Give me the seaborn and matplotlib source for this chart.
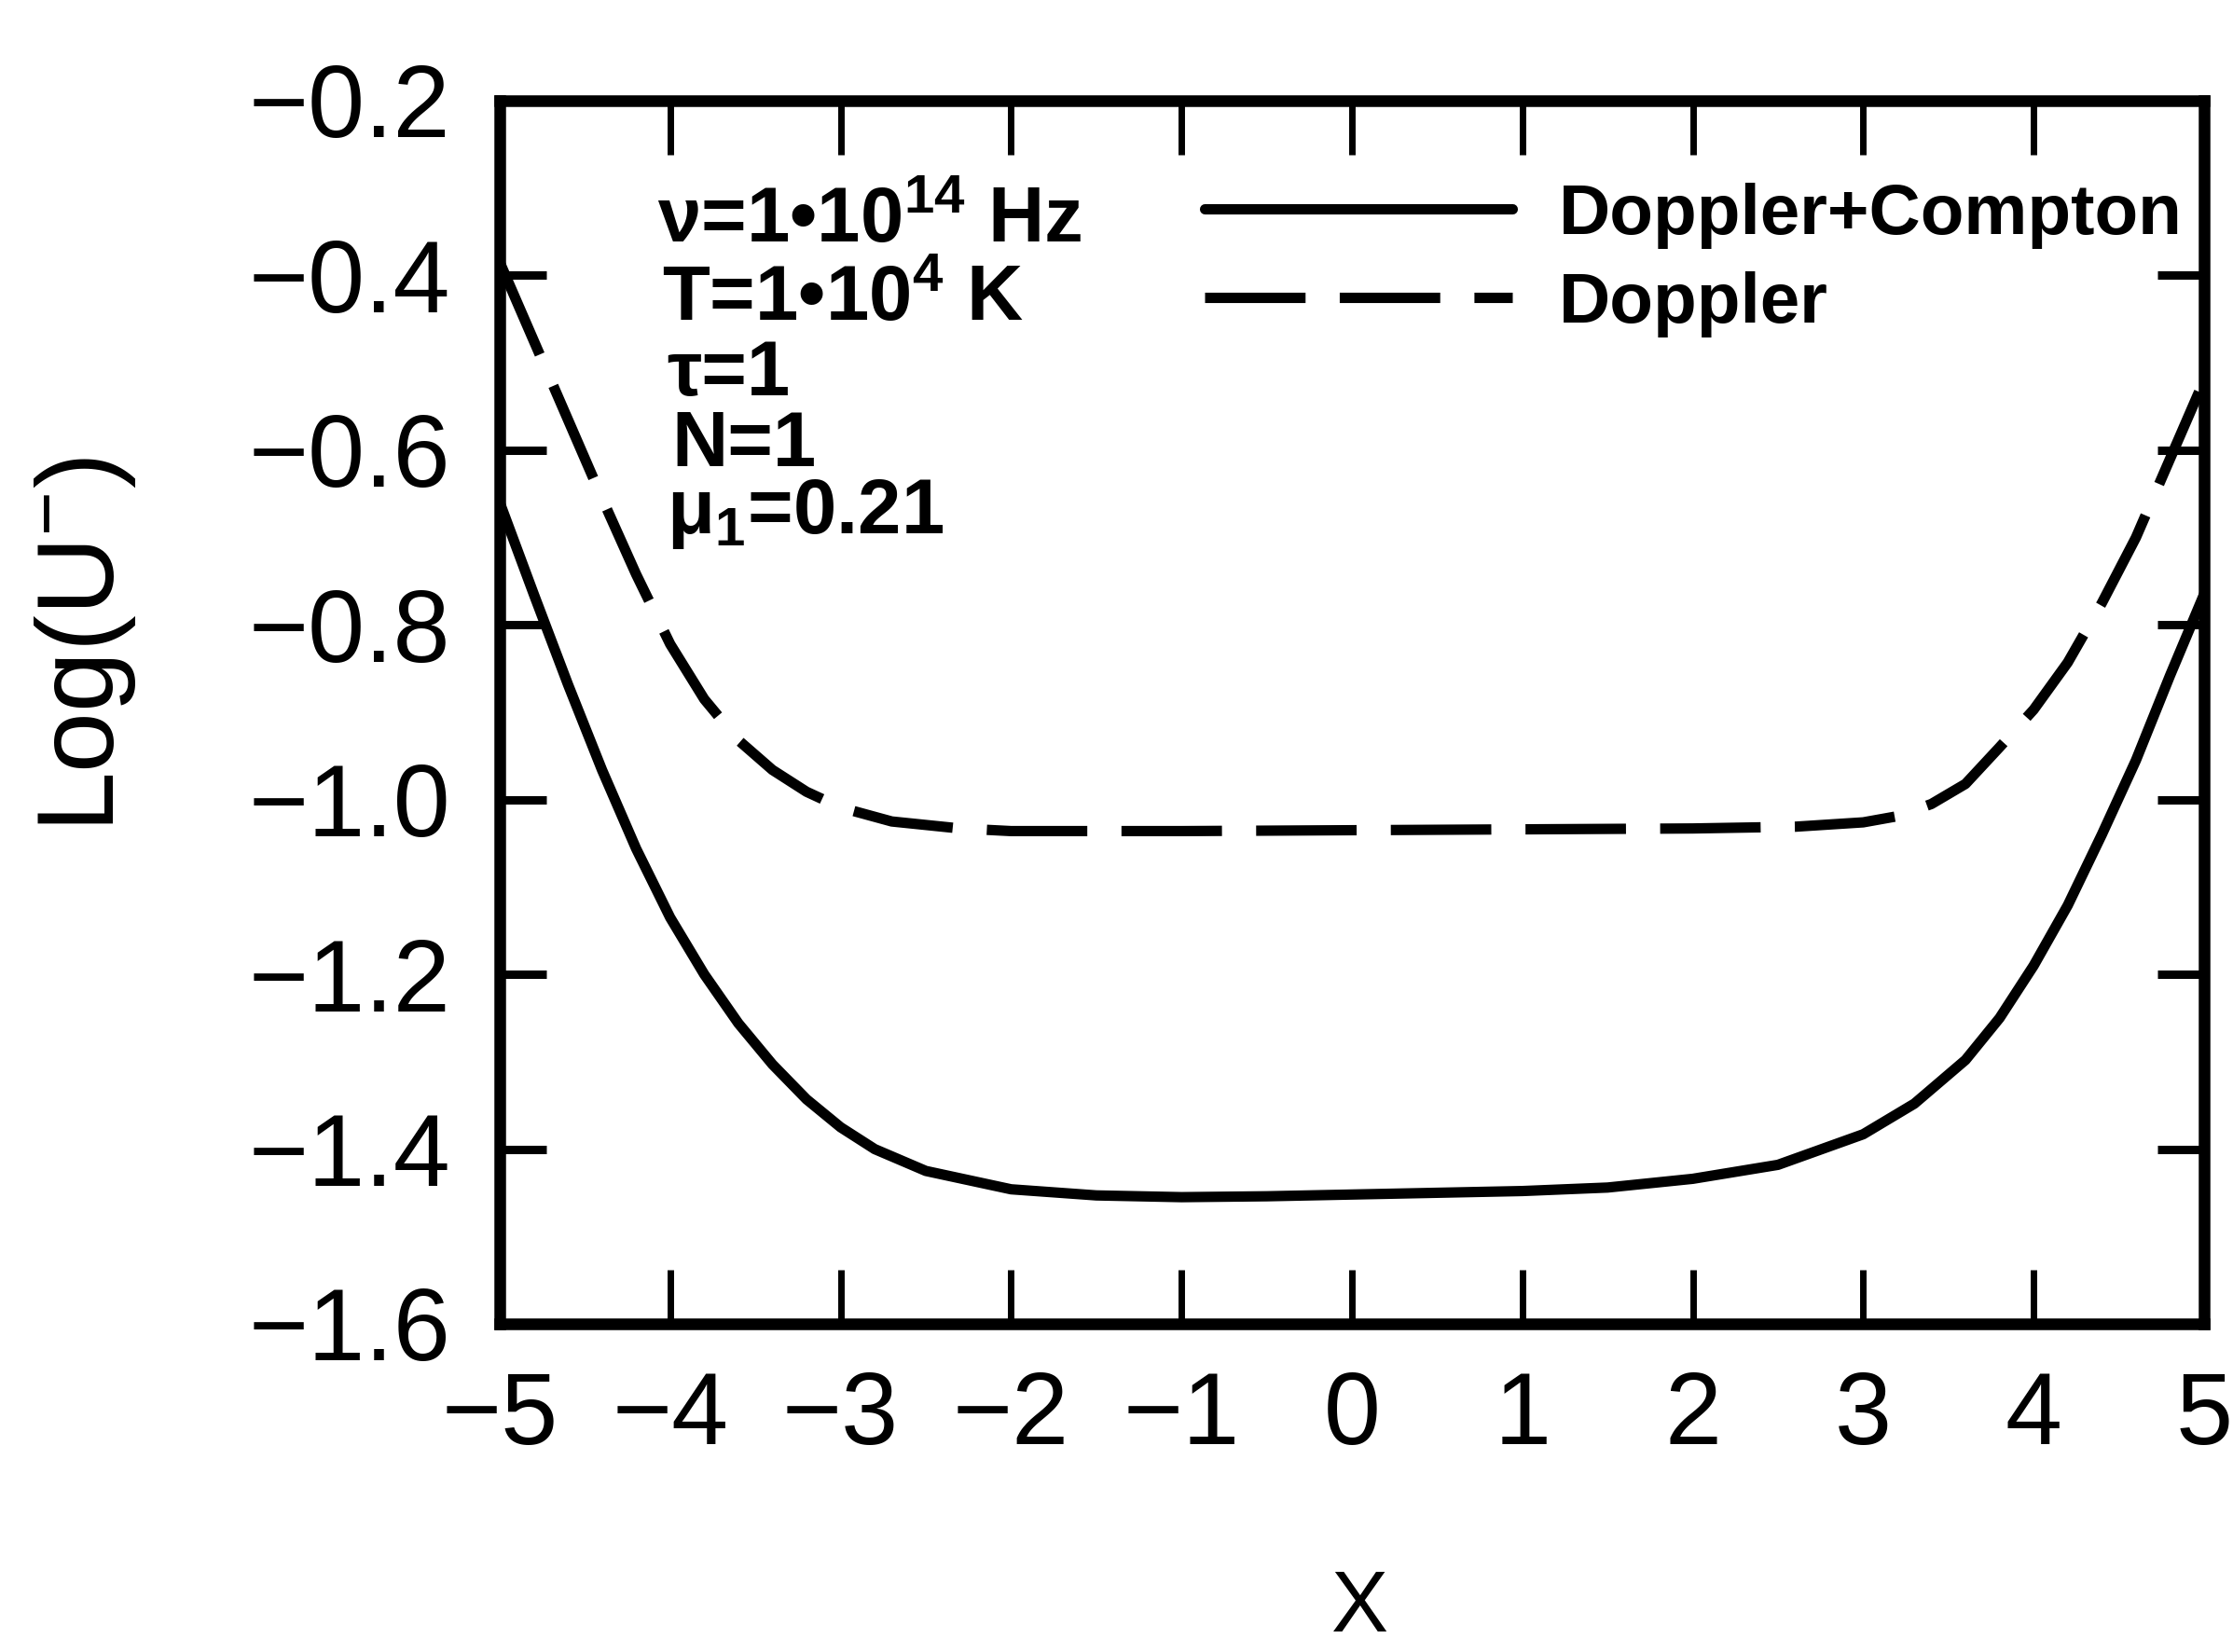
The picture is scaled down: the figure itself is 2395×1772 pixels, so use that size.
import numpy as np
import pandas as pd
import matplotlib
matplotlib.use("Agg")
import matplotlib.pyplot as plt
import seaborn as sns
from matplotlib import font_manager as fm

# ---------------- data ----------------
x_dc = [-5.0, -4.8, -4.6, -4.4, -4.2, -4.0, -3.8, -3.6, -3.4, -3.2, -3.0, -2.8,
        -2.5, -2.0, -1.5, -1.0, -0.5, 0.0, 0.5, 1.0, 1.5, 2.0, 2.5, 3.0, 3.3,
        3.6, 3.8, 4.0, 4.2, 4.4, 4.6, 4.8, 5.0]
y_dc = [-0.66, -0.765, -0.868, -0.966, -1.056, -1.135, -1.200, -1.256, -1.303,
        -1.343, -1.375, -1.400, -1.425, -1.446, -1.453, -1.455, -1.454, -1.452,
        -1.450, -1.448, -1.444, -1.434, -1.418, -1.383, -1.348, -1.298, -1.250,
        -1.190, -1.121, -1.040, -0.955, -0.858, -0.765]

x_d = [-5.0, -4.8, -4.6, -4.4, -4.2, -4.0, -3.8, -3.6, -3.4, -3.2, -3.0, -2.7,
       -2.3, -2.0, -1.0, 0.0, 1.0, 2.0, 2.6, 3.0, 3.2, 3.4, 3.6, 3.8, 4.0, 4.2,
       4.4, 4.6, 4.8, 5.0]
y_d = [-0.385, -0.475, -0.565, -0.655, -0.742, -0.822, -0.885, -0.932, -0.966,
       -0.991, -1.009, -1.025, -1.033, -1.036, -1.036, -1.035, -1.034, -1.033,
       -1.031, -1.026, -1.019, -1.005, -0.982, -0.940, -0.897, -0.843, -0.775,
       -0.700, -0.610, -0.52]

series_labels = ["Doppler+Compton", "Doppler"]
x_ticks = [-5, -4, -3, -2, -1, 0, 1, 2, 3, 4, 5]
y_ticks = [-1.6, -1.4, -1.2, -1.0, -0.8, -0.6, -0.4, -0.2]
annot_lines = ["ν=1•10$^{14}$ Hz", "T=1•10$^{4}$ K", "τ=1", "N=1", "μ$_{1}$=0.21"]
x_label = "X"
y_label = "Log(U$^{-}$)"

# ---------------- style ----------------
sns.set_theme(style="ticks")
plt.rcParams["font.family"] = ["Liberation Sans", "DejaVu Sans"]
plt.rcParams["mathtext.fontset"] = "custom"
plt.rcParams["mathtext.default"] = "regular"
plt.rcParams["mathtext.rm"] = "Liberation Sans"
plt.rcParams["axes.unicode_minus"] = True
plt.rcParams["text.color"] = "black"
plt.rcParams["axes.labelcolor"] = "black"
plt.rcParams["xtick.color"] = "black"
plt.rcParams["ytick.color"] = "black"
plt.rcParams["legend.labelcolor"] = "black"

W, H = 2395, 1772
fig = plt.figure(figsize=(W / 100, H / 100), dpi=100)
fig.patch.set_facecolor("white")

def fx(px):
    return px / W

def fy(py):
    return 1 - py / H

left, right, top, bottom = 536, 2364, 108, 1420
ax = fig.add_axes([fx(left), fy(bottom), (right - left) / W, (bottom - top) / H])
ax.set_facecolor("white")

df = pd.concat([
    pd.DataFrame({"x": x_dc, "y": y_dc, "series": series_labels[0]}),
    pd.DataFrame({"x": x_d, "y": y_d, "series": series_labels[1]}),
])

lw = 8
sns.lineplot(data=df[df.series == series_labels[0]], x="x", y="y", ax=ax,
             color="black", linewidth=lw, label=series_labels[0], sort=True)
sns.lineplot(data=df[df.series == series_labels[1]], x="x", y="y", ax=ax,
             color="black", linewidth=lw, label=series_labels[1], sort=True)
ax.lines[1].set_linestyle((0, (9.7, 3.3)))
for ln in ax.lines:
    ln.set_solid_capstyle("round")
    ln.set_solid_joinstyle("round")
    ln.set_dash_capstyle("butt")

ax.set_xlim(-5, 5)
ax.set_ylim(-1.6, -0.2)
ax.set_xticks(x_ticks)
ax.set_yticks(y_ticks)
ax.set_xticklabels([f"{v:d}".replace("-", "\u2212") for v in x_ticks])
ax.set_yticklabels([f"{v:.1f}".replace("-", "\u2212") for v in y_ticks])
ax.set_xlabel("")
ax.set_ylabel("")

for s in ax.spines.values():
    s.set_visible(True)
    s.set_linewidth(9)
    s.set_color("black")

ax.tick_params(axis="both", which="major", direction="in", top=True, right=True,
               labelsize=79, colors="black")
ax.tick_params(axis="x", length=42, width=5, pad=36)
ax.tick_params(axis="y", length=36, width=6.5, pad=38)

# annotation block
ann_pos = [(705, 260), (710, 344), (715, 424), (720, 500), (715, 572)]
for txt, (px, py) in zip(annot_lines, ann_pos):
    fig.text(fx(px), fy(py), txt, ha="left", va="baseline", fontsize=60,
             fontweight="bold", color="black")

# legend
names = {f.name for f in fm.fontManager.ttflist}
if "Liberation Sans Narrow" in names:
    leg_prop = fm.FontProperties(family="Liberation Sans Narrow", weight="bold", size=66)
else:
    leg_prop = fm.FontProperties(family="Liberation Sans", weight="bold", size=55)
fs_px = leg_prop.get_size_in_points() * 100 / 72
handles = ax.lines[:2]
leg = ax.legend(handles, series_labels, prop=leg_prop, frameon=False,
                loc="center left", bbox_to_anchor=(fx(1292), fy(279)),
                bbox_transform=fig.transFigure, borderpad=0, borderaxespad=0,
                handlelength=330 / fs_px, handletextpad=50 / fs_px,
                labelspacing=0.32, labelcolor="black")

fig.text(fx(1459), fy(1769), x_label, ha="center", va="bottom", fontsize=66,
         color="black")
fig.text(fx(91), fy(691), y_label, ha="center", va="center", rotation=90,
         fontsize=84, color="black")

fig.savefig("out.png", dpi=100, facecolor="white")
